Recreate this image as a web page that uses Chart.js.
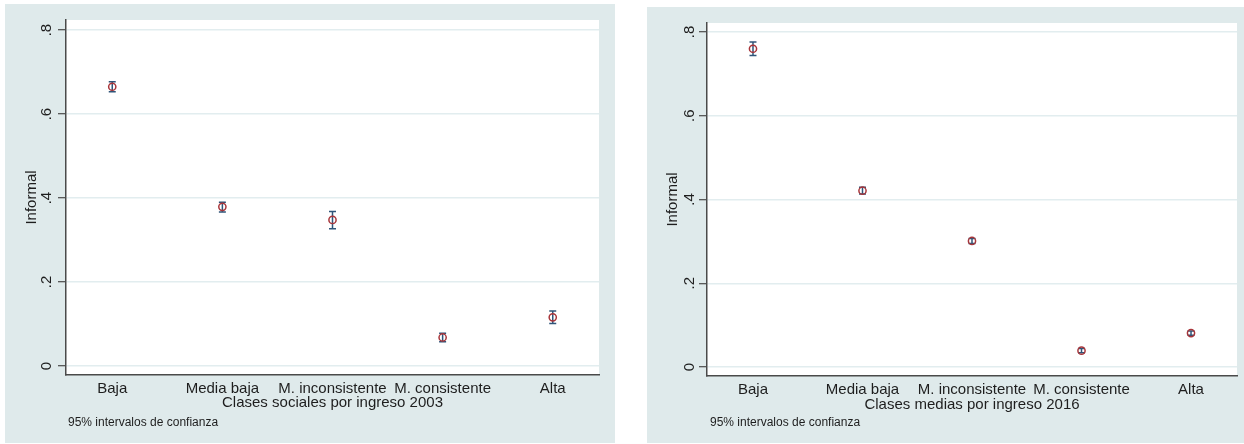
<!DOCTYPE html>
<html>
<head>
<meta charset="utf-8">
<script src="https://cdn.jsdelivr.net/npm/chart.js@4/dist/chart.umd.min.js"></script>
<style>
  html, body { margin: 0; padding: 0; background: #ffffff; overflow: hidden; }
  body { width: 1244px; height: 444px; position: relative; }
  canvas { position: absolute; background: #dfeaeb; }
</style>
</head>
<body>
<canvas id="panel2003" width="610" height="439" style="left:5px; top:4px;"></canvas>
<canvas id="panel2016" width="597" height="436" style="left:647px; top:7px;"></canvas>
<script>
// Categories on the horizontal axis (positions 1..5)
const categories = ['Baja', 'Media baja', 'M. inconsistente', 'M. consistente', 'Alta'];

// Predicted share informal, 2003, with 95% confidence limits
const informal2003 = [0.665, 0.379, 0.348, 0.068, 0.116];
const lower2003    = [0.653, 0.367, 0.327, 0.058, 0.101];
const upper2003    = [0.677, 0.390, 0.368, 0.078, 0.131];

// Predicted share informal, 2016, with 95% confidence limits
const informal2016 = [0.760, 0.421, 0.301, 0.039, 0.081];
const lower2016    = [0.744, 0.413, 0.295, 0.034, 0.076];
const upper2016    = [0.776, 0.429, 0.307, 0.044, 0.086];

// Vertical axis ticks
const yTickValues = [0, 0.2, 0.4, 0.6, 0.8];
const yTickLabels = ['0', '.2', '.4', '.6', '.8'];

const FONT = '"Liberation Sans", Arial, Helvetica, sans-serif';
const TEXT = '#1e1e1e';
const AXIS = '#4a4a4a';
const GRID = '#e2edef';
const CI_COLOR = '#2f5579';
const MARK_COLOR = '#a8353a';

// White plot region
const plotBackground = {
  id: 'plotBackground',
  beforeDraw(chart) {
    const { ctx, chartArea: a } = chart;
    ctx.save();
    ctx.fillStyle = '#ffffff';
    ctx.fillRect(a.left, a.top, a.right - a.left, a.bottom - a.top);
    ctx.restore();
  }
};

// Capped confidence spikes, drawn beneath the markers
const confidenceSpikes = {
  id: 'confidenceSpikes',
  beforeDatasetsDraw(chart) {
    const { ctx, scales: { x, y } } = chart;
    const ds = chart.data.datasets[0];
    const lo = ds.lower, hi = ds.upper;
    ctx.save();
    ctx.strokeStyle = CI_COLOR;
    ctx.lineWidth = 1.5;
    ds.data.forEach((p, i) => {
      const px = x.getPixelForValue(p.x);
      const y0 = y.getPixelForValue(lo[i]);
      const y1 = y.getPixelForValue(hi[i]);
      ctx.beginPath();
      ctx.moveTo(px, y0); ctx.lineTo(px, y1);
      ctx.moveTo(px - 3.5, y0); ctx.lineTo(px + 3.5, y0);
      ctx.moveTo(px - 3.5, y1); ctx.lineTo(px + 3.5, y1);
      ctx.stroke();
    });
    ctx.restore();
  }
};

// Rotated y tick labels, axis title and footnote
const panelText = {
  id: 'panelText',
  afterDraw(chart, args, opts) {
    const { ctx, chartArea: a, scales: { y } } = chart;
    ctx.save();
    ctx.fillStyle = TEXT;
    ctx.font = '15px ' + FONT;
    ctx.textAlign = 'center';
    ctx.textBaseline = 'middle';
    yTickValues.forEach((v, i) => {
      ctx.save();
      ctx.translate(a.left - opts.tickLabelGap, y.getPixelForValue(v));
      ctx.rotate(-Math.PI / 2);
      ctx.fillText(yTickLabels[i], 0, 0);
      ctx.restore();
    });
    ctx.save();
    ctx.translate(a.left - opts.titleGap, (a.top + a.bottom) / 2);
    ctx.rotate(-Math.PI / 2);
    ctx.fillText('Informal', 0, 0);
    ctx.restore();
    ctx.font = '12px ' + FONT;
    ctx.textAlign = 'left';
    ctx.fillText('95% intervalos de confianza', opts.noteX, opts.noteY);
    ctx.restore();
  }
};

function makePanel(id, values, lower, upper, xTitle, geom) {
  const points = values.map((v, i) => ({ x: i + 1, y: v }));
  return new Chart(document.getElementById(id), {
    type: 'scatter',
    data: {
      datasets: [{
        data: points,
        lower: lower,
        upper: upper,
        pointStyle: 'circle',
        pointRadius: 3.6,
        pointHoverRadius: 3.6,
        borderColor: MARK_COLOR,
        backgroundColor: 'rgba(0,0,0,0)',
        borderWidth: 1.5
      }]
    },
    options: {
      responsive: false,
      animation: false,
      devicePixelRatio: 1,
      layout: { padding: { left: 0, top: geom.padTop, right: geom.padRight, bottom: 0 } },
      plugins: {
        legend: { display: false },
        tooltip: { enabled: false },
        panelText: geom.text
      },
      scales: {
        x: {
          type: 'linear',
          min: 0.58,
          max: 5.42,
          afterBuildTicks: s => { s.ticks = categories.map((c, i) => ({ value: i + 1 })); },
          afterFit: s => { s.height = geom.xHeight; },
          grid: { display: false, drawTicks: false },
          border: { display: true, color: AXIS, width: 1.5 },
          ticks: {
            padding: 5,
            color: TEXT,
            font: { family: FONT, size: 15 },
            maxRotation: 0,
            minRotation: 0,
            autoSkip: false,
            callback: v => categories[v - 1]
          },
          title: {
            display: true,
            text: xTitle,
            color: TEXT,
            font: { family: FONT, size: 15 },
            padding: { top: 0, bottom: geom.titlePad }
          }
        },
        y: {
          type: 'linear',
          min: geom.yMin,
          max: geom.yMax,
          afterBuildTicks: s => { s.ticks = yTickValues.map(v => ({ value: v })); },
          afterFit: s => { s.width = geom.yWidth; },
          grid: {
            color: GRID,
            lineWidth: 1.4,
            drawTicks: true,
            tickLength: 8,
            tickColor: AXIS,
            tickWidth: 1.2
          },
          border: { display: true, color: AXIS, width: 1.5 },
          ticks: { display: false }
        }
      }
    },
    plugins: [plotBackground, confidenceSpikes, panelText]
  });
}

makePanel('panel2003', informal2003, lower2003, upper2003,
  'Clases sociales por ingreso 2003', {
    padTop: 16, padRight: 16, xHeight: 68, yWidth: 61,
    yMin: -0.0214, yMax: 0.824, titlePad: 31,
    text: { tickLabelGap: 19, titleGap: 34, noteX: 63, noteY: 419 }
  });

makePanel('panel2016', informal2016, lower2016, upper2016,
  'Clases medias por ingreso 2016', {
    padTop: 16, padRight: 7, xHeight: 67, yWidth: 60,
    yMin: -0.0215, yMax: 0.8215, titlePad: 29,
    text: { tickLabelGap: 17, titleGap: 34, noteX: 63, noteY: 416 }
  });
</script>
</body>
</html>
